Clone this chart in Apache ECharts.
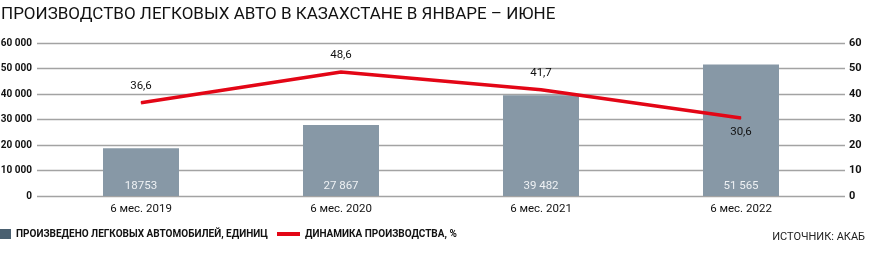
<!DOCTYPE html>
<html><head><meta charset="utf-8">
<script src="https://cdn.jsdelivr.net/npm/echarts@6/dist/echarts.min.js"></script>
<style>html,body{margin:0;padding:0;background:#fff}#c{width:870px;height:256px}</style>
</head><body><div id="c"></div>
<script>
var categories = ['6 мес. 2019', '6 мес. 2020', '6 мес. 2021', '6 мес. 2022'];
var produced = [18753, 27867, 39482, 51565];
var producedLabels = ['18753', '27 867', '39 482', '51 565'];
var dynamics = [36.6, 48.6, 41.7, 30.6];
var leftTicks = [0, 10000, 20000, 30000, 40000, 50000, 60000];
var rightTicks = [0, 10, 20, 30, 40, 50, 60];
var title = 'ПРОИЗВОДСТВО ЛЕГКОВЫХ АВТО В КАЗАХСТАНЕ В ЯНВАРЕ – ИЮНЕ';
var barName = 'ПРОИЗВЕДЕНО ЛЕГКОВЫХ АВТОМОБИЛЕЙ, ЕДИНИЦ';
var lineName = 'ДИНАМИКА ПРОИЗВОДСТВА, %';
var source = 'ИСТОЧНИК: АКАБ';

var narrow = 'Roboto, sans-serif';
var chart = echarts.init(document.getElementById('c'));
function fmtThousands(v){ return String(v).replace(/\B(?=(\d{3})+(?!\d))/g, ' '); }
chart.setOption({
  animation: false,
  title: { text: title, left: 0, top: 6, padding: [0, 0, 0, 1], textStyle: { fontFamily: 'Roboto, sans-serif', fontWeight: 'normal', fontSize: 17, color: '#111' } },
  graphic: [{ type: 'text', right: 5, top: 232, style: { text: source, font: '11px Roboto, sans-serif', fill: '#222' } }],
  legend: [
    { data: [{ name: barName, itemStyle: { color: '#4a6070' } }], left: 0, top: 229, padding: 0, icon: 'rect', itemWidth: 11, itemHeight: 10,
      textStyle: { fontFamily: narrow, fontWeight: 'bold', fontSize: 10, color: '#111' } },
    { data: [lineName], left: 277, top: 229, padding: 0, icon: 'rect', itemWidth: 23, itemHeight: 4,
      textStyle: { fontFamily: narrow, fontWeight: 'bold', fontSize: 10, color: '#111' } }
  ],
  grid: [
    { left: 41, right: 29, top: 43, bottom: 60, outerBoundsMode: 'none', containLabel: false },
    { left: 37, right: 25, top: 43, bottom: 60, outerBoundsMode: 'none', containLabel: false }
  ],
  xAxis: [
    { type: 'category', data: categories, gridIndex: 0, axisLine: { show: false }, axisTick: { show: false },
      axisLabel: { fontFamily: narrow, fontSize: 11.5, color: '#111', margin: 7 } },
    { type: 'value', gridIndex: 1, show: false, min: 0, max: 1 }
  ],
  yAxis: [
    { type: 'value', gridIndex: 0, min: 0, max: 60000, interval: 10000, show: false },
    { type: 'value', gridIndex: 0, min: 0, max: 60, interval: 10, show: false },
    { type: 'value', gridIndex: 1, min: 0, max: 60000, interval: 10000, position: 'left',
      axisLine: { show: false }, axisTick: { show: false },
      splitLine: { lineStyle: { color: '#a3a3a3', width: 1.3 } },
      axisLabel: { fontFamily: narrow, fontWeight: 'bold', fontSize: 10, color: '#111', margin: 5, formatter: fmtThousands } },
    { type: 'value', gridIndex: 1, min: 0, max: 60, interval: 10, position: 'right',
      axisLine: { show: false }, axisTick: { show: false }, splitLine: { show: false },
      axisLabel: { fontFamily: narrow, fontWeight: 'bold', fontSize: 11, color: '#111', margin: 4 } }
  ],
  series: [
    { name: barName, type: 'bar', xAxisIndex: 0, yAxisIndex: 0, data: produced, barWidth: 76, z: 3,
      itemStyle: { color: '#8798a6' },
      label: { show: true, position: 'insideBottom', distance: 4, fontFamily: narrow, fontSize: 11.5, color: '#eef1f4',
        formatter: function(p){ return producedLabels[p.dataIndex]; } } },
    { name: lineName, type: 'line', xAxisIndex: 0, yAxisIndex: 1, z: 5, symbol: 'circle', symbolSize: 1, showSymbol: true,
      lineStyle: { color: '#e30616', width: 3.5 }, itemStyle: { color: '#e30616' },
      data: dynamics.map(function(v, i){
        return { value: v, label: { show: true, position: i === 3 ? 'bottom' : 'top', distance: i === 3 ? 8 : 10 } };
      }),
      label: { show: true, fontFamily: narrow, fontSize: 11.5, color: '#111', formatter: function(p){ return String(p.value).replace('.', ','); } } },
    { type: 'scatter', xAxisIndex: 1, yAxisIndex: 2, data: [], silent: true }
  ]
});
</script></body></html>
